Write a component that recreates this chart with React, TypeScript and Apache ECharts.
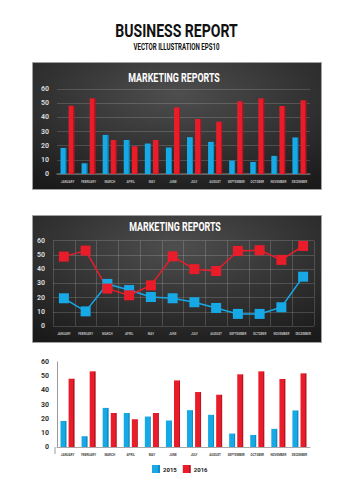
import React, { useEffect, useRef } from "react";
import * as echarts from "echarts";

const months = ["JANUARY", "FEBRUARY", "MARCH", "APRIL", "MAY", "JUNE", "JULY", "AUGUST", "SEPTEMBER", "OCTOBER", "NOVEMBER", "DECEMBER"];
const bar2015 = [18.4, 7.6, 27.6, 24, 21.5, 18.7, 26, 22.7, 9.5, 8.5, 12.8, 25.8];
const bar2016 = [48.2, 53.4, 24, 19.6, 24, 47, 38.8, 36.9, 51.3, 53.4, 48, 52];
const line2015 = [19.5, 10.3, 29.6, 25.3, 20.4, 19.5, 16.7, 12.7, 8.5, 8.5, 13.2, 34.7];
const line2016 = [48.8, 53, 26.3, 21.6, 28.6, 49, 40, 38.7, 52.8, 53.3, 46.5, 56.3];
const yTicks = { min: 0, max: 60, interval: 10 };

const BLUE = "#17a8e6";
const RED = "#e91c2a";
const FONT = "Roboto, 'Liberation Sans', sans-serif";

const barFill = (c: string, d: string) => ({
  type: "linear", x: 0, y: 0, x2: 1, y2: 0,
  colorStops: [
    { offset: 0, color: c }, { offset: 0.78, color: c },
    { offset: 0.8, color: d }, { offset: 1, color: d },
  ],
});

const panelFill = {
  type: "radial", x: 0.5, y: 0.25, r: 0.85,
  colorStops: [
    { offset: 0, color: "#4e4e4e" },
    { offset: 0.55, color: "#313131" },
    { offset: 1, color: "#1a1a1a" },
  ],
};

const title = (text: string, x: number, y: number, size: number, color: string, sx: number) => ({
  type: "text", z: 10, x, y, scaleX: sx,
  style: { text, fill: color, font: `bold ${size}px ${FONT}`, textAlign: "center", textVerticalAlign: "middle" },
});

export default function App() {
  const ref = useRef<HTMLDivElement>(null);
  useEffect(() => {
    const chart = echarts.init(ref.current!, null, { renderer: "svg" });
    const darkY = (gi: number) => ({
      type: "value", gridIndex: gi, ...yTicks,
      axisLine: { show: false }, axisTick: { show: false },
      axisLabel: { color: "#d8d8d8", fontSize: 7, fontWeight: "bold", fontFamily: FONT, margin: 8 },
      splitLine: { lineStyle: { color: "rgba(255,255,255,0.16)", width: 1 } },
    });
    const catLabel = (color: string) => ({ color, fontSize: 3, fontWeight: "bold", fontFamily: FONT, margin: 6, interval: 0 });
    const option: any = {
      animation: false,
      backgroundColor: "#ffffff",
      graphic: [
        { type: "rect", z: -10, shape: { x: 32.5, y: 62.5, width: 289, height: 127 }, style: { fill: panelFill, stroke: "#a0a0a0", lineWidth: 1 } },
        { type: "rect", z: -10, shape: { x: 32.5, y: 215.5, width: 289, height: 127 }, style: { fill: panelFill, stroke: "#a0a0a0", lineWidth: 1 } },
        title("BUSINESS REPORT", 176.5, 31, 18, "#111", 0.78),
        title("VECTOR ILLUSTRATION EPS10", 176.5, 47, 8.5, "#111", 0.72),
        title("MARKETING REPORTS", 174, 78, 12, "#ffffff", 0.74),
        title("MARKETING REPORTS", 175, 227, 12, "#ffffff", 0.74),
        { type: "line", z: 10, shape: { x1: 55, y1: 447, x2: 55, y2: 454 }, style: { stroke: "#9a9a9a", lineWidth: 1 } },
      ],
      grid: [
        { left: 57, right: 44, top: 89, bottom: 326 },
        { left: 53, right: 40, top: 240.7, bottom: 174 },
        { left: 57, right: 44, top: 362, bottom: 53 },
      ],
      xAxis: [
        {
          type: "category", gridIndex: 0, data: months,
          axisLine: { lineStyle: { color: "#6a6a6a", width: 1.5 } }, axisTick: { show: false },
          axisLabel: catLabel("#bdbdbd"),
        },
        {
          type: "category", gridIndex: 1, data: months,
          axisLine: { show: false }, axisTick: { show: false },
          axisLabel: catLabel("#bdbdbd"),
          splitLine: { show: true, interval: 0, lineStyle: { color: "rgba(255,255,255,0.16)", width: 1 } },
        },
        {
          type: "category", gridIndex: 2, data: months,
          axisLine: { lineStyle: { color: "#a8a8a8", width: 1.2 } }, axisTick: { show: false },
          axisLabel: catLabel("#444"),
        },
      ],
      yAxis: [
        darkY(0),
        darkY(1),
        {
          type: "value", gridIndex: 2, ...yTicks,
          axisLine: { show: true, lineStyle: { color: "#9a9a9a", width: 1 } }, axisTick: { show: false },
          axisLabel: { color: "#333", fontSize: 7, fontWeight: "bold", fontFamily: FONT, margin: 8 },
          splitLine: { show: false },
        },
      ],
      legend: {
        left: 152, top: 465, padding: 0, itemWidth: 8, itemHeight: 8, itemGap: 6, icon: "rect",
        textStyle: { fontSize: 6, fontWeight: "bold", fontFamily: FONT, color: "#222", padding: [0, 0, 0, -2] },
        data: ["2015", "2016"],
      },
      series: [
        { name: "2015", type: "bar", xAxisIndex: 0, yAxisIndex: 0, data: bar2015, barWidth: 6, barGap: "35%", itemStyle: { color: barFill(BLUE, "#138cc2") } },
        { name: "2016", type: "bar", xAxisIndex: 0, yAxisIndex: 0, data: bar2016, barWidth: 6, barGap: "35%", itemStyle: { color: barFill(RED, "#b9141f") } },
        { name: "2015", type: "line", xAxisIndex: 1, yAxisIndex: 1, data: line2015, symbol: "rect", symbolSize: 10, lineStyle: { color: BLUE, width: 1.5 }, itemStyle: { color: BLUE } },
        { name: "2016", type: "line", xAxisIndex: 1, yAxisIndex: 1, data: line2016, symbol: "rect", symbolSize: 10, lineStyle: { color: RED, width: 1.5 }, itemStyle: { color: RED } },
        { name: "2015", type: "bar", xAxisIndex: 2, yAxisIndex: 2, data: bar2015, barWidth: 6, barGap: "35%", itemStyle: { color: barFill(BLUE, "#138cc2") } },
        { name: "2016", type: "bar", xAxisIndex: 2, yAxisIndex: 2, data: bar2016, barWidth: 6, barGap: "35%", itemStyle: { color: barFill(RED, "#b9141f") } },
      ],
    };
    chart.setOption(option);
    return () => chart.dispose();
  }, []);
  return <div ref={ref} style={{ position: "fixed", left: 0, top: 0, width: 354, height: 500 }} />;
}
